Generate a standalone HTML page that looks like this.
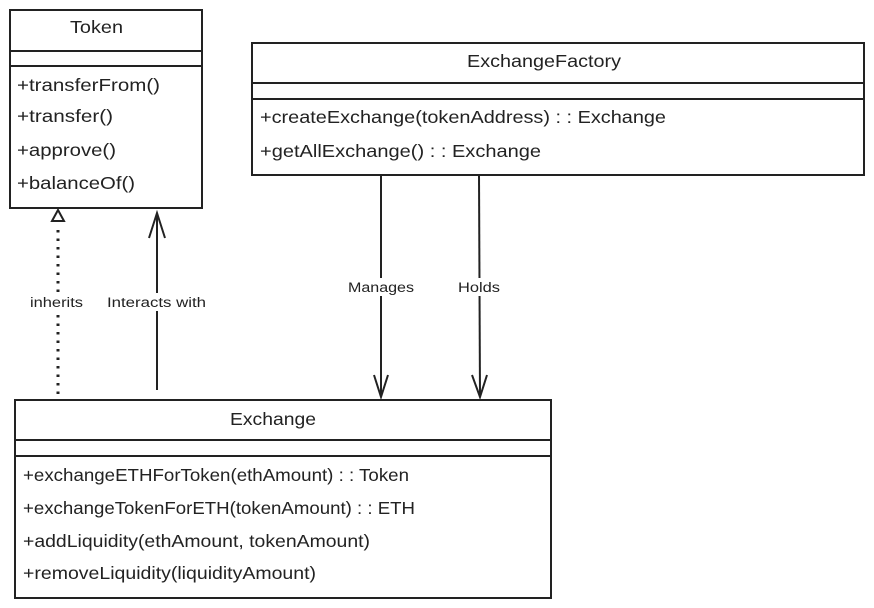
<!DOCTYPE html>
<html><head><style>
body{margin:0;background:#fff;}
svg{display:block;}
text{font-family:"Liberation Sans",sans-serif;fill:#222;}
.m{font-size:17.5px;}
.l{font-size:13.5px;}
</style></head><body>
<svg width="874" height="608" viewBox="0 0 874 608" xmlns="http://www.w3.org/2000/svg">
<g fill="none" stroke="#222" stroke-width="2">
<rect x="10" y="10" width="192" height="198"/>
<line x1="10" y1="51" x2="202" y2="51"/>
<line x1="10" y1="66" x2="202" y2="66"/>
<rect x="252" y="43" width="612" height="132"/>
<line x1="252" y1="83" x2="864" y2="83"/>
<line x1="252" y1="99" x2="864" y2="99"/>
<rect x="15" y="400" width="536" height="198"/>
<line x1="15" y1="440" x2="551" y2="440"/>
<line x1="15" y1="456" x2="551" y2="456"/>
<line x1="381" y1="175" x2="381" y2="397"/>
<polyline points="374,375 381,397 388,375"/>
<line x1="479" y1="175" x2="480" y2="397"/>
<polyline points="472,375 480,397 487,375"/>
<line x1="157" y1="390" x2="157" y2="213"/>
<polyline points="149,238 157,213 165,238"/>
<line x1="58" y1="394" x2="58" y2="224" stroke-width="3" stroke-dasharray="2.5,6"/>
<polygon points="52,221 58,210 64,221"/>
</g>
<rect x="26" y="293" width="62" height="18" fill="#fff"/>
<rect x="104" y="293" width="106" height="18" fill="#fff"/>
<rect x="345" y="278" width="72" height="18" fill="#fff"/>
<rect x="455" y="278" width="48" height="18" fill="#fff"/>
<text class="m" x="70" y="33" textLength="53" lengthAdjust="spacingAndGlyphs">Token</text>
<text class="m" x="17" y="91" textLength="143" lengthAdjust="spacingAndGlyphs">+transferFrom()</text>
<text class="m" x="17" y="122" textLength="96" lengthAdjust="spacingAndGlyphs">+transfer()</text>
<text class="m" x="17" y="156" textLength="99" lengthAdjust="spacingAndGlyphs">+approve()</text>
<text class="m" x="17" y="189" textLength="118" lengthAdjust="spacingAndGlyphs">+balanceOf()</text>
<text class="m" x="467" y="67" textLength="154" lengthAdjust="spacingAndGlyphs">ExchangeFactory</text>
<text class="m" x="260" y="123" textLength="406" lengthAdjust="spacingAndGlyphs">+createExchange(tokenAddress) : : Exchange</text>
<text class="m" x="260" y="157" textLength="281" lengthAdjust="spacingAndGlyphs">+getAllExchange() : : Exchange</text>
<text class="m" x="230" y="425" textLength="86" lengthAdjust="spacingAndGlyphs">Exchange</text>
<text class="m" x="23" y="481" textLength="386" lengthAdjust="spacingAndGlyphs">+exchangeETHForToken(ethAmount) : : Token</text>
<text class="m" x="23" y="514" textLength="392" lengthAdjust="spacingAndGlyphs">+exchangeTokenForETH(tokenAmount) : : ETH</text>
<text class="m" x="23" y="547" textLength="347" lengthAdjust="spacingAndGlyphs">+addLiquidity(ethAmount, tokenAmount)</text>
<text class="m" x="23" y="579" textLength="293" lengthAdjust="spacingAndGlyphs">+removeLiquidity(liquidityAmount)</text>
<text class="l" x="30" y="307" textLength="53" lengthAdjust="spacingAndGlyphs">inherits</text>
<text class="l" x="107" y="307" textLength="99" lengthAdjust="spacingAndGlyphs">Interacts with</text>
<text class="l" x="348" y="292" textLength="66" lengthAdjust="spacingAndGlyphs">Manages</text>
<text class="l" x="458" y="292" textLength="42" lengthAdjust="spacingAndGlyphs">Holds</text>
</svg>
</body></html>
